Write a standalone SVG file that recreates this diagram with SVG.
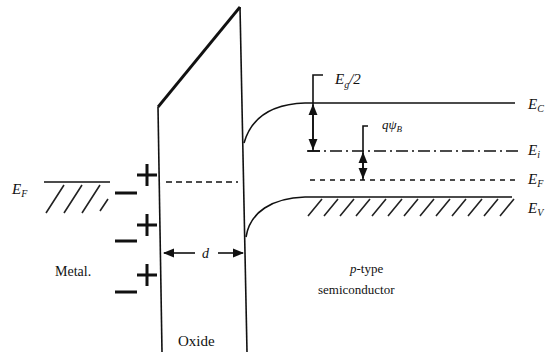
<svg xmlns="http://www.w3.org/2000/svg" width="549" height="352" viewBox="0 0 549 352">
<defs>
<style>
.ln{stroke:#111;fill:none;stroke-width:1.6}
.thk{stroke:#111;fill:none;stroke-width:2.8}
.hat{stroke:#222;fill:none;stroke-width:1.6}
.pm{stroke:#111;fill:none;stroke-width:3}
.t{font-family:"Liberation Serif","DejaVu Serif",serif;fill:#111}
.it{font-family:"Liberation Serif","DejaVu Serif",serif;font-style:italic;fill:#111}
</style>
<marker id="ah" viewBox="0 0 10 10" refX="9" refY="5" markerWidth="7" markerHeight="7" orient="auto-start-reverse">
<path d="M0,1 L10,5 L0,9 Z" fill="#111"/>
</marker>
</defs>
<rect width="549" height="352" fill="#fff"/>

<g id="metal">
<line class="ln" x1="44" y1="182" x2="110" y2="182"/>
<path class="hat" d="M46,213 L64,185 M64,213 L82,185 M82,213 L100,185 M100,211 L108,199"/>
<text class="it" x="12" y="194" font-size="15">E<tspan font-size="10" dy="3">F</tspan></text>
<text class="t" x="55" y="276" font-size="14">Metal.</text>
<path class="pm" d="M115,193 H137 M115,241 H137 M115,292 H137"/>
<path class="pm" d="M137,175 H157 M147,164 V186 M137,225 H157 M147,214 V236 M137,275 H157 M147,264 V286"/>
</g>

<g id="oxide">
<line class="ln" x1="158" y1="107" x2="162" y2="352"/>
<line class="ln" x1="240" y1="7" x2="247" y2="352"/>
<line class="thk" x1="158" y1="107" x2="240" y2="7"/>
<line class="ln" x1="166" y1="182" x2="238" y2="182" stroke-dasharray="6,4"/>
<line class="ln" x1="180" y1="253" x2="164" y2="253" marker-end="url(#ah)"/>
<line class="ln" x1="218" y1="253" x2="243" y2="253" marker-end="url(#ah)"/>
<line class="ln" x1="180" y1="253" x2="195" y2="253"/>
<text class="it" x="202" y="258" font-size="14">d</text>
<text class="t" x="178" y="346" font-size="15">Oxide</text>
</g>

<g id="semiconductor">
<path class="ln" d="M244,143 C252,115 275,104 305,103 H515"/>
<path class="ln" d="M246,237 C250,212 272,198 305,197 H512"/>
<path class="hat" d="M308,216 L322,199 M324,216 L338,199 M340,216 L354,199 M356,216 L370,199 M372,216 L386,199 M388,216 L402,199 M404,216 L418,199 M420,216 L434,199 M436,216 L450,199 M452,216 L466,199 M468,216 L482,199 M484,216 L498,199 M500,216 L514,199"/>
<line class="ln" x1="308" y1="151" x2="520" y2="151" stroke-dasharray="12,4,2,4"/>
<line class="ln" x1="310" y1="180" x2="520" y2="180" stroke-dasharray="5,5" stroke-width="1.3"/>
<text class="it" x="528" y="109" font-size="15">E<tspan font-size="10" dy="3">C</tspan></text>
<text class="it" x="528" y="155" font-size="15">E<tspan font-size="10" dy="3">i</tspan></text>
<text class="it" x="528" y="184" font-size="15">E<tspan font-size="10" dy="3">F</tspan></text>
<text class="it" x="528" y="213" font-size="15">E<tspan font-size="10" dy="3">V</tspan></text>
<text class="it" x="350" y="273" font-size="13">p<tspan class="t" font-style="normal">-type</tspan></text>
<text class="t" x="318" y="294" font-size="13">semiconductor</text>
</g>

<g id="connectors">
<path class="ln" d="M323,75 H313 V151"/>
<line class="ln" x1="307" y1="151" x2="320" y2="151"/>
<line class="ln" x1="313" y1="127" x2="313" y2="105" marker-end="url(#ah)"/>
<line class="ln" x1="313" y1="127" x2="313" y2="149" marker-end="url(#ah)"/>
<path class="ln" d="M368,126 H363 V180"/>
<line class="ln" x1="363" y1="166" x2="363" y2="153" marker-end="url(#ah)" stroke-width="1.2"/>
<line class="ln" x1="363" y1="166" x2="363" y2="178" marker-end="url(#ah)" stroke-width="1.2"/>
<text class="it" x="335" y="84" font-size="15">E<tspan font-size="10" dy="4">g</tspan><tspan dy="-4">/2</tspan></text>
<text class="it" x="382" y="129" font-size="13">qψ<tspan font-size="9" dy="3">B</tspan></text>
</g>
</svg>
